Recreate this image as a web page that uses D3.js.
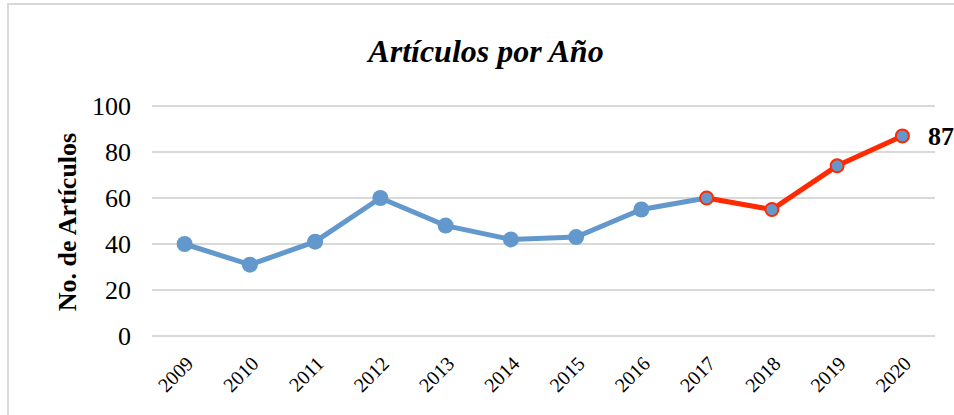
<!DOCTYPE html>
<html>
  <head>
    <meta charset="utf-8">
    <title>Artículos por Año</title>
    <script src="https://d3js.org/d3.v7.min.js"></script>
    <style>
      body { margin: 0; background: #fff; }
      svg text { font-family: "Liberation Serif", "Times New Roman", serif; fill: #000; }
    </style>
  </head>
  <body>
    <svg id="chart" width="954" height="415"></svg>
    <script>
      // data
      years = ["2009", "2010", "2011", "2012", "2013", "2014", "2015", "2016", "2017", "2018", "2019", "2020"];
      articles = [40, 31, 41, 60, 48, 42, 43, 55, 60, 55, 74, 87];
      highlightFrom = "2017";
      yTicks = [0, 20, 40, 60, 80, 100];

      svg = d3.select("#chart");
      points = years.map(function(y, i) { return { year: y, value: articles[i] }; });
      cut = years.indexOf(highlightFrom);

      // frame
      svg.append("path")
        .attr("d", "M8,415 V4 H954")
        .attr("fill", "none")
        .attr("stroke", "#d9d9d9")
        .attr("stroke-width", 2);

      x = d3.scaleBand().domain(years).range([152, 935]);
      y = d3.scaleLinear().domain([0, 100]).range([336, 106]);

      // gridlines
      svg.append("g")
        .selectAll("line")
        .data(yTicks)
        .join("line")
          .attr("x1", 152).attr("x2", 935)
          .attr("y1", function(d) { return y(d); })
          .attr("y2", function(d) { return y(d); })
          .attr("stroke", "#d9d9d9")
          .attr("stroke-width", 2);

      // y tick labels
      svg.append("g")
        .selectAll("text")
        .data(yTicks)
        .join("text")
          .attr("x", 131)
          .attr("y", function(d) { return y(d); })
          .attr("dy", "0.35em")
          .attr("text-anchor", "end")
          .attr("font-size", 26)
          .text(function(d) { return d; });

      // x tick labels
      svg.append("g")
        .selectAll("text")
        .data(years)
        .join("text")
          .attr("transform", function(d) {
            return "translate(" + (x(d) + x.bandwidth() / 2 + 5) + ",360) rotate(-45)";
          })
          .attr("text-anchor", "end")
          .attr("dy", "0.35em")
          .attr("font-size", 20)
          .text(function(d) { return d; });

      // titles
      svg.append("text")
        .attr("x", 486).attr("y", 62)
        .attr("text-anchor", "middle")
        .attr("font-size", 32)
        .attr("font-weight", "bold")
        .attr("font-style", "italic")
        .text("Artículos por Año");
      svg.append("text")
        .attr("transform", "translate(76,222) rotate(-90)")
        .attr("text-anchor", "middle")
        .attr("font-size", 26)
        .attr("font-weight", "bold")
        .text("No. de Artículos");

      line = d3.line()
        .x(function(d) { return x(d.year) + x.bandwidth() / 2; })
        .y(function(d) { return y(d.value); });

      blue = "#6398cd";
      red = "#ff2a00";

      svg.append("path")
        .datum(points.slice(0, cut + 1))
        .attr("d", line)
        .attr("fill", "none")
        .attr("stroke", blue)
        .attr("stroke-width", 5);
      svg.append("path")
        .datum(points.slice(cut))
        .attr("d", line)
        .attr("fill", "none")
        .attr("stroke", red)
        .attr("stroke-width", 5);

      svg.append("g")
        .selectAll("circle")
        .data(points)
        .join("circle")
          .attr("cx", function(d) { return x(d.year) + x.bandwidth() / 2; })
          .attr("cy", function(d) { return y(d.value); })
          .attr("r", function(d, i) { return i >= cut ? 6.5 : 8; })
          .attr("fill", blue)
          .attr("stroke", function(d, i) { return i >= cut ? red : "none"; })
          .attr("stroke-width", 2);

      last = points[points.length - 1];
      svg.append("text")
        .attr("x", 928)
        .attr("y", y(last.value))
        .attr("dy", "0.35em")
        .attr("font-size", 26)
        .attr("font-weight", "bold")
        .text(last.value);
    </script>
  </body>
</html>
